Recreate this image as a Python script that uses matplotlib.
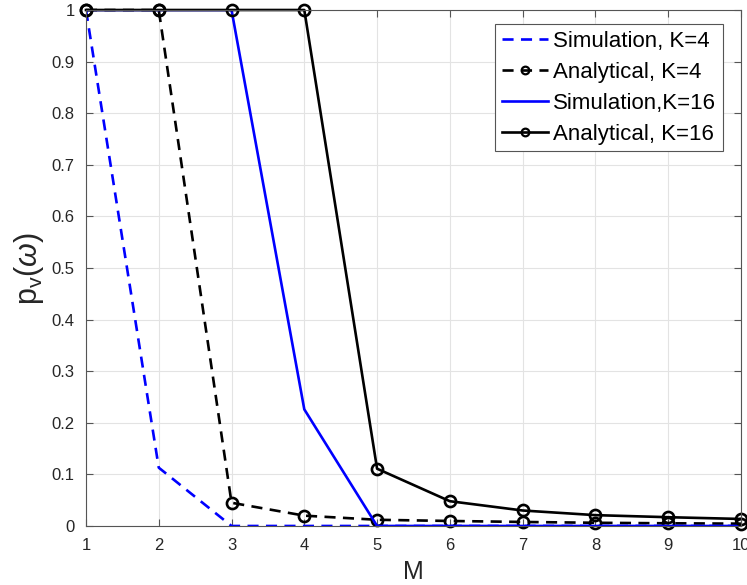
import matplotlib.pyplot as plt
import numpy as np

plt.rcParams['font.family'] = ['Liberation Sans', 'DejaVu Sans']
plt.rcParams['mathtext.fontset'] = 'custom'
plt.rcParams['mathtext.it'] = 'Liberation Sans:italic'
plt.rcParams['mathtext.rm'] = 'Liberation Sans'

M = np.arange(1, 11)
sim_k4 = [1, 0.113, 0, 0, 0, 0, 0, 0, 0, 0]
ana_k4 = [1, 1, 0.045, 0.020, 0.012, 0.0097, 0.0078, 0.0062, 0.0052, 0.0045]
sim_k16 = [1, 1, 1, 0.226, 0, 0, 0, 0, 0, 0]
ana_k16 = [1, 1, 1, 1, 0.111, 0.048, 0.030, 0.021, 0.017, 0.0136]

fig = plt.figure(figsize=(7.47, 5.85), dpi=100)
ax = fig.add_axes([0.1151, 0.1009, 0.8768, 0.882])

lw = 1.9
dash = (4.2, 2.8)
ax.plot(M, sim_k4, '--', color='blue', lw=lw, dashes=dash, label='Simulation, K=4')
ax.plot(M, ana_k4, '--', color='black', lw=lw, dashes=dash, marker='o', ms=8,
        mfc='none', mew=1.9, label='Analytical, K=4', clip_on=False)
ax.plot(M, sim_k16, '-', color='blue', lw=lw, label='Simulation,K=16')
ax.plot(M, ana_k16, '-', color='black', lw=lw, marker='o', ms=8,
        mfc='none', mew=1.9, label='Analytical, K=16', clip_on=False)

ax.set_xlim(1, 10)
ax.set_ylim(0, 1)
ax.set_xticks(M)
ax.set_yticks(np.arange(0, 1.01, 0.1))
ax.set_yticklabels(['0'] + ['%.1f' % v for v in np.arange(0.1, 0.95, 0.1)] + ['1'])
ax.grid(True, color='#e3e3e3', lw=0.8)
ax.set_axisbelow(True)
for s in ax.spines.values():
    s.set_color('#555555')
    s.set_linewidth(0.8)
ax.tick_params(direction='in', length=5, color='#555555', labelsize=12,
               labelcolor='#262626', top=True, right=True, labeltop=False, labelright=False)
ax.tick_params(axis='x', pad=9)
ax.tick_params(axis='y', pad=8)

ax.set_xlabel('M', fontsize=18, color='#262626', labelpad=5)
ax.set_ylabel(r'p$_\mathregular{v}$($\omega$)', fontsize=22, color='#262626', labelpad=4)

leg = ax.legend(loc='upper right', bbox_to_anchor=(0.972, 0.973), fontsize=16,
                fancybox=False, edgecolor='#555555', framealpha=1,
                handlelength=2.1, handletextpad=0.2, borderpad=0.3,
                labelspacing=0.45, borderaxespad=0)
leg.get_frame().set_linewidth(0.8)
leg.set_zorder(5)
for h in leg.legend_handles:
    h.set_markersize(5.5)
    h.set_markeredgewidth(1.6)

plt.savefig('out.png', dpi=100)
